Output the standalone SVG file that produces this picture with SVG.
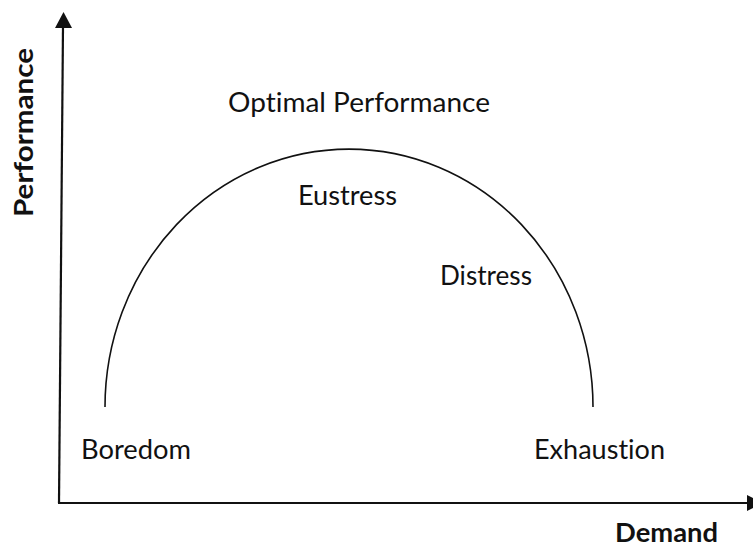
<svg xmlns="http://www.w3.org/2000/svg" width="753" height="556" viewBox="0 0 753 556">
<defs>
<style>
.lbl{font-family:Lato,"Open Sans","Liberation Sans",sans-serif;font-size:27px;fill:#111;font-variant-ligatures:none;}
.ax{font-family:Lato,"Open Sans","Liberation Sans",sans-serif;font-size:26px;font-weight:bold;fill:#111;font-variant-ligatures:none;}
.axis{stroke:#111;stroke-width:2.2;fill:none;}
.curve{stroke:#111;stroke-width:1.6;fill:none;}
</style>
</defs>
<rect width="753" height="556" fill="#fff"/>
<g id="connectors">
<path class="axis" d="M63 26 L59 503"/>
<polygon points="63.5,12 55,28 72,28" fill="#111"/>
<path class="axis" d="M58 503 L750 503"/>
<polygon points="763,503 747,495 747,511" fill="#111"/>
<path id="curve" class="curve" d="M105 407 A244 258 0 0 1 593 407"/>
</g>
<g id="optimal"><text class="lbl" x="228" y="112" textLength="262" lengthAdjust="spacingAndGlyphs">Optimal Performance</text></g>
<g id="eustress"><text class="lbl" x="298" y="205" textLength="99" lengthAdjust="spacingAndGlyphs">Eustress</text></g>
<g id="distress"><text class="lbl" x="440" y="285" textLength="92" lengthAdjust="spacingAndGlyphs">Distress</text></g>
<g id="boredom"><text class="lbl" x="81" y="459" textLength="110" lengthAdjust="spacingAndGlyphs">Boredom</text></g>
<g id="exhaustion"><text class="lbl" x="534" y="459" textLength="131" lengthAdjust="spacingAndGlyphs">Exhaustion</text></g>
<g id="demand"><text class="ax" x="615" y="542" textLength="103" lengthAdjust="spacingAndGlyphs">Demand</text></g>
<g id="performance"><text class="ax" x="0" y="0" transform="translate(33,217) rotate(-90)" textLength="169" lengthAdjust="spacingAndGlyphs">Performance</text></g>
</svg>
